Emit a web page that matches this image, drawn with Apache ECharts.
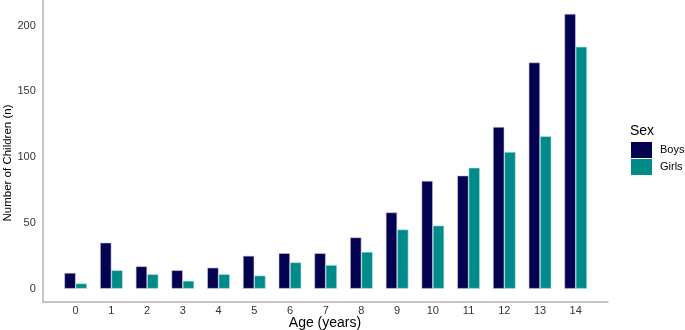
<!DOCTYPE html>
<html>
<head>
<meta charset="utf-8">
<script src="https://cdn.jsdelivr.net/npm/echarts@6/dist/echarts.min.js"></script>
<style>
  html, body { margin: 0; padding: 0; background: #fff; }
  #chart { width: 685px; height: 330px; }
</style>
</head>
<body>
<div id="chart"></div>
<script>
const ages = ["0", "1", "2", "3", "4", "5", "6", "7", "8", "9", "10", "11", "12", "13", "14"];
const boys = [12, 35, 17, 14, 16, 25, 27, 27, 39, 58, 82, 86, 123, 172, 209];
const girls = [4, 14, 11, 6, 11, 10, 20, 18, 28, 45, 48, 92, 104, 116, 184];
const yTicks = [0, 50, 100, 150, 200];

const font = "Liberation Sans, Arial, sans-serif";
const chart = echarts.init(document.getElementById("chart"));

const option = {
  animation: false,
  textStyle: { fontFamily: font },
  grid: [
    // frame: axis lines only
    { left: 43, right: 77, top: 0, bottom: 28, containLabel: false, outerBoundsMode: "none" },
    // bars
    { left: 57.8, width: 535.8, top: 25.7, bottom: 41.3, containLabel: false, outerBoundsMode: "none" }
  ],
  xAxis: [
    {
      gridIndex: 0, type: "value", min: 0, max: 1,
      axisLine: { show: true, lineStyle: { color: "#b3b3b3", width: 1.5 } },
      axisTick: { show: false }, axisLabel: { show: false }, splitLine: { show: false }
    },
    {
      gridIndex: 1, type: "category", data: ages,
      axisLine: { show: false }, axisTick: { show: false },
      axisLabel: { color: "#333", fontSize: 11, margin: 17 }
    }
  ],
  yAxis: [
    {
      gridIndex: 0, type: "value", min: 0, max: 1,
      axisLine: { show: true, lineStyle: { color: "#b3b3b3", width: 1.5 } },
      axisTick: { show: false }, axisLabel: { show: false }, splitLine: { show: false }
    },
    {
      gridIndex: 1, type: "value", min: yTicks[0], max: yTicks[yTicks.length - 1], interval: 50,
      axisLine: { show: false }, axisTick: { show: false }, splitLine: { show: false },
      axisLabel: { color: "#333", fontSize: 11, margin: 22 }
    }
  ],
  legend: {
    orient: "vertical", left: 631, top: 142, padding: 0,
    itemWidth: 21, itemHeight: 16, itemGap: 1,
    icon: "rect",
    itemStyle: { borderWidth: 0 },
    textStyle: { color: "#000", fontSize: 11, padding: [0, 0, 0, 3] },
    data: ["Boys", "Girls"]
  },
  graphic: [
    {
      type: "text", left: 630, top: 124,
      style: { text: "Sex", fill: "#000", font: "14px " + font }
    },
    {
      type: "text", x: 325, y: 323,
      style: { text: "Age (years)", fill: "#000", font: "14px " + font, align: "center", verticalAlign: "middle" }
    },
    {
      type: "text", x: 8, y: 163, rotation: Math.PI / 2,
      style: { text: "Number of Children (n)", fill: "#000", font: "11.5px " + font, align: "center", verticalAlign: "middle" }
    }
  ],
  series: [
    {
      name: "Boys", type: "bar", xAxisIndex: 1, yAxisIndex: 1, data: boys,
      barWidth: 11.3, barGap: "0%", clip: false,
      itemStyle: { color: "#020250", borderColor: "#c9c9df", borderWidth: 0.6 }
    },
    {
      name: "Girls", type: "bar", xAxisIndex: 1, yAxisIndex: 1, data: girls,
      barWidth: 11.3, barGap: "0%", clip: false,
      itemStyle: { color: "#008b8b", borderColor: "#bfe3e3", borderWidth: 0.6 }
    }
  ]
};

chart.setOption(option);
</script>
</body>
</html>
